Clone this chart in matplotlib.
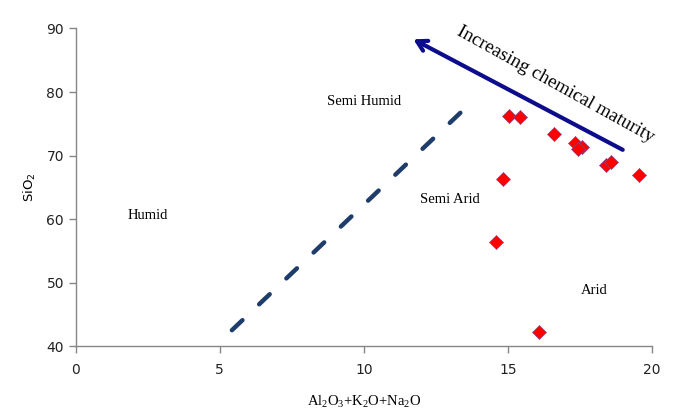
import matplotlib.pyplot as plt

# sample data (Al2O3+K2O+Na2O vs SiO2)
alkali_alumina = [15.03, 15.41, 16.59, 17.33, 17.57, 17.45, 18.4, 18.6, 19.54, 14.85, 14.58, 16.07]
silica = [76.3, 76.1, 73.4, 72.0, 71.4, 71.0, 68.5, 69.0, 67.0, 66.3, 56.4, 42.2]

# boundary line between humid and arid fields
boundary_x = [5.42, 13.37]
boundary_y = [42.5, 76.8]

# maturity arrow (tail -> head)
arrow_tail = (18.99, 70.9)
arrow_head = (11.72, 88.3)

# region labels
region_names = ['Semi Humid', 'Humid', 'Semi Arid', 'Arid']
region_x = [10.0, 2.5, 13.0, 18.0]
region_y = [78.5, 60.6, 63.1, 48.8]

serif = 'Liberation Serif'
grey = '#868686'

plt.rcParams['mathtext.fontset'] = 'custom'
plt.rcParams['mathtext.rm'] = serif
plt.rcParams['mathtext.it'] = serif + ':italic'

fig = plt.figure(figsize=(6.89, 4.13), dpi=100)
ax = fig.add_axes([0.110, 0.162, 0.836, 0.769])

ax.plot(boundary_x, boundary_y, color='#1F3D6B', lw=3.2, linestyle=(0, (3.28, 5.18)),
        solid_capstyle='round', dash_capstyle='round')

ax.annotate('', xy=arrow_head, xytext=arrow_tail,
            arrowprops=dict(arrowstyle='->,head_length=0.7,head_width=0.4',
                            color='#0C0C8C', lw=3.0, shrinkA=0, shrinkB=0))

ax.scatter(alkali_alumina, silica, marker='D', s=52, color='#FF0000',
           edgecolor='#7A4A9A', linewidth=0.4, zorder=3)

for name, x, y in zip(region_names, region_x, region_y):
    ax.text(x, y, name, family=serif, fontsize=10.5, ha='center', va='center')

ax.text(16.65, 81.1, 'Increasing chemical maturity', family=serif, fontsize=13.8,
        rotation=-29, ha='center', va='center', rotation_mode='anchor')

ax.set_xlim(0, 20)
ax.set_ylim(40, 90)
ax.set_xticks([0, 5, 10, 15, 20])
ax.set_yticks([40, 50, 60, 70, 80, 90])

for side in ['top', 'right']:
    ax.spines[side].set_visible(False)
for side in ['left', 'bottom']:
    ax.spines[side].set_color(grey)
    ax.spines[side].set_linewidth(1.0)
ax.spines['bottom'].set_bounds(0, 20)

ax.tick_params(axis='both', colors=grey, length=5, width=1.0, direction='out',
               labelcolor='#222222', labelsize=10)
ax.tick_params(axis='x', pad=7)

ax.set_xlabel('Al$_2$O$_3$+K$_2$O+Na$_2$O', family=serif, fontsize=10.5, labelpad=12)
ax.set_ylabel('SiO$\\mathsf{_2}$', fontsize=9.5, labelpad=6)

fig.savefig('out.png', dpi=100)
